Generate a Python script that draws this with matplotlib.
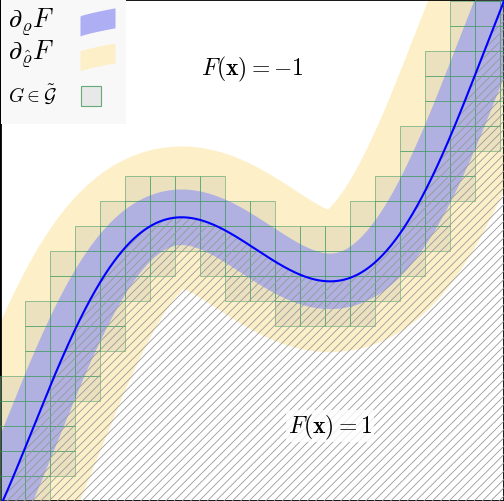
import numpy as np
import matplotlib
matplotlib.use("Agg")
import matplotlib.pyplot as plt
from matplotlib.patches import Rectangle
plt.rcParams['mathtext.fontset'] = 'cm'
plt.rcParams['hatch.color'] = '#888888'
plt.rcParams['hatch.linewidth'] = 0.6

# curve sample points (grid units, 1 unit = 1 cell)
curve_x = [0.2, 2.0, 4.0, 6.0, 7.2, 8.8, 10.4, 12.0, 12.8, 14.0, 16.0, 18.0, 20.0]
curve_y = [0.1, 4.9, 8.5, 10.7, 11.5, 11.2, 10.1, 8.9, 8.6, 8.9, 10.9, 14.5, 19.6]
cell = 1.0
W, H = 20.16, 20.08

coef = np.polyfit(curve_x, curve_y, 5)
xs = np.linspace(-3, 23, 2000)
ys = np.polyval(coef, xs)

fig = plt.figure(figsize=(5.04, 5.02), dpi=100)
ax = fig.add_axes([0, 0, 1, 1])
ax.set_xlim(0, W); ax.set_ylim(0, H)
ax.set_xticks([]); ax.set_yticks([])
for s in ax.spines.values():
    s.set_linewidth(2); s.set_color('black')

ax.plot(xs, ys, color='#fdf0c8', lw=102, solid_capstyle='butt', zorder=1)
ax.plot(xs, ys, color='#aeaef5', lw=40, solid_capstyle='butt', zorder=2)

# grid cells touching the wider band
pts = np.column_stack([xs, ys])
for i in range(21):
    for j in range(21):
        cx = np.clip(pts[:, 0], i, i + 1); cy = np.clip(pts[:, 1], j, j + 1)
        d = np.min(np.hypot(pts[:, 0] - cx, pts[:, 1] - cy))
        if d < 1.05:
            ax.add_patch(Rectangle((i, j), cell, cell, facecolor='#b8b8a8', alpha=0.25,
                                   edgecolor='none', zorder=3))
            ax.add_patch(Rectangle((i, j), cell, cell, facecolor='none',
                                   edgecolor='#3c9a60', lw=0.6, alpha=0.6, zorder=4))

ax.fill_between(xs, -1, ys, facecolor='none', hatch='////', edgecolor='#999999',
                linewidth=0, zorder=5)
ax.plot(xs, ys, color='blue', lw=1.5, zorder=6)

ax.text(10.1, 17.3, r'$F(\mathbf{x}) = -1$', fontsize=17, ha='center', va='center', zorder=7)
ax.text(13.2, 3.0, r'$F(\mathbf{x}) = 1$', fontsize=17, ha='center', va='center', zorder=7,
        bbox=dict(facecolor='white', edgecolor='none', alpha=0.8, pad=1))

# legend
ax.add_patch(Rectangle((0.05, 15.1), 5.0, 4.98, facecolor='#f8f8f8', edgecolor='none', zorder=8))
ax.text(0.3, 19.2, r'$\partial_{\varrho}F$', fontsize=19, va='center', zorder=9)
ax.text(0.3, 17.9, r'$\partial_{\hat\varrho}F$', fontsize=19, va='center', zorder=9)
ax.text(0.3, 16.3, r'$G\in\tilde{\mathcal{G}}$', fontsize=14, va='center', zorder=9)
lx = np.linspace(3.2, 4.6, 30)
ax.fill_between(lx, 18.6 + 0.25 * (lx - 3.2) ** 0.8, 19.4 + 0.25 * (lx - 3.2) ** 0.8,
                color='#aeaef5', lw=0, zorder=9)
ax.fill_between(lx, 17.2 + 0.25 * (lx - 3.2) ** 0.8, 18.0 + 0.25 * (lx - 3.2) ** 0.8,
                color='#fdf0c8', lw=0, zorder=9)
ax.add_patch(Rectangle((3.25, 15.8), 0.8, 0.8, facecolor='#e8e8e8', edgecolor='#66aa77',
                       lw=0.8, zorder=9))

fig.savefig('out.png', dpi=100)
